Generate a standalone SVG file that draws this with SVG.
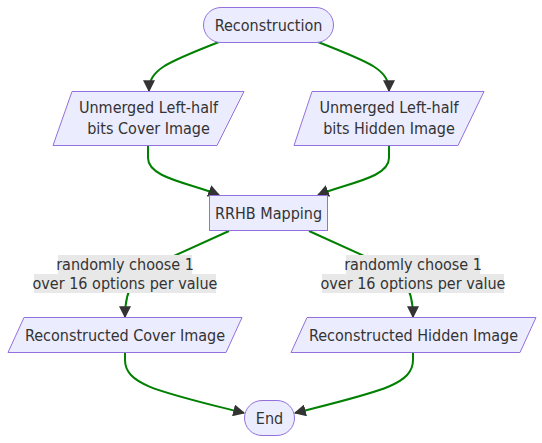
<svg xmlns="http://www.w3.org/2000/svg" width="542" height="443" viewBox="0 0 542 443">
<defs>
<marker id="arr" viewBox="0 0 10 10" refX="9" refY="5" markerUnits="userSpaceOnUse" markerWidth="12" markerHeight="12" orient="auto">
<path d="M0,0 L10,5 L0,10 z" fill="#333333"/>
</marker>
</defs>
<style>
.node{fill:#ECECFF;stroke:#9370DB;stroke-width:1px}
.t{font-family:"DejaVu Sans Condensed","DejaVu Sans",sans-serif;font-size:16px;fill:#333333;text-anchor:middle;dominant-baseline:central}
.edge{fill:none;stroke:#008000;stroke-width:2px;marker-end:url(#arr)}
.lbg{fill:#e8e8e8}
</style>
<rect width="542" height="443" fill="#ffffff"/>
<g id="connectors">
<path class="edge" d="M219,42 C165,63 149,70 149,91"/>
<path class="edge" d="M318,42 C372,63 389,70 389,91"/>
<path class="edge" d="M148,146 L148,158 C148,178 190,183 219,195"/>
<path class="edge" d="M389,146 L389,158 C389,178 347,183 318,195"/>
<path class="edge" d="M229,231 L165,260 C135,275 125,285 125,317"/>
<path class="edge" d="M309,231 L373,260 C403,275 413,285 413,317"/>
<path class="edge" d="M125,353 L125,360 C125,385 160,392 244,413"/>
<path class="edge" d="M413,353 L413,360 C413,385 378,392 295,413"/>
</g>
<g id="label-left">
<rect class="lbg" x="58" y="255" width="134" height="19"/>
<rect class="lbg" x="34" y="274" width="182" height="19"/>
<text class="t" x="125" y="264.5">randomly choose 1</text>
<text class="t" x="125" y="283.5">over 16 options per value</text>
</g>
<g id="label-right">
<rect class="lbg" x="346" y="255" width="134" height="19"/>
<rect class="lbg" x="322" y="274" width="182" height="19"/>
<text class="t" x="413" y="264.5">randomly choose 1</text>
<text class="t" x="413" y="283.5">over 16 options per value</text>
</g>
<g id="start">
<rect class="node" x="203.5" y="7.5" width="130" height="35" rx="17.5" ry="17.5"/>
<text class="t" x="268.5" y="25">Reconstruction</text>
</g>
<g id="leftHalfCover">
<polygon class="node" points="72,91.5 244,91.5 217,145.5 53,145.5"/>
<text class="t" x="148.5" y="107">Unmerged Left-half</text>
<text class="t" x="148.5" y="128">bits Cover Image</text>
</g>
<g id="leftHalfHidden">
<polygon class="node" points="312,91.5 484,91.5 458,145.5 294,145.5"/>
<text class="t" x="389" y="107">Unmerged Left-half</text>
<text class="t" x="389" y="128">bits Hidden Image</text>
</g>
<g id="rrhb">
<rect class="node" x="209.5" y="195.5" width="118" height="35"/>
<text class="t" x="268.5" y="213">RRHB Mapping</text>
</g>
<g id="recCover">
<polygon class="node" points="24,317.5 242,317.5 226,352.5 8,352.5"/>
<text class="t" x="125" y="335">Reconstructed Cover Image</text>
</g>
<g id="recHidden">
<polygon class="node" points="307,317.5 536,317.5 520,352.5 291,352.5"/>
<text class="t" x="413.5" y="335">Reconstructed Hidden Image</text>
</g>
<g id="end">
<rect class="node" x="244.5" y="400.5" width="50" height="35" rx="17.5" ry="17.5"/>
<text class="t" x="269.5" y="418">End</text>
</g>
</svg>
